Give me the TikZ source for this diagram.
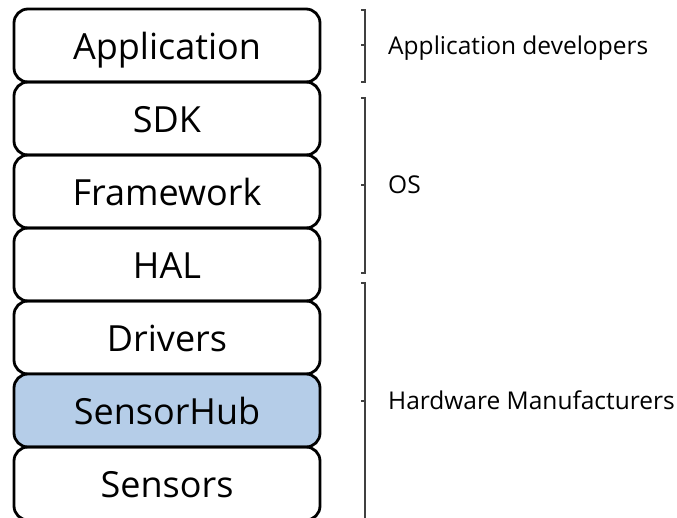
\documentclass[tikz,border=0pt]{standalone}
\usepackage{fontspec}
\setmainfont{Open Sans}
\usetikzlibrary{positioning}
\definecolor{hubblue}{RGB}{181,205,232}

\begin{document}
\begin{tikzpicture}[x=1pt,y=-1pt,node distance=0pt,
    layer/.style={draw,line width=2.8pt,rounded corners=14pt,minimum width=306pt,
      minimum height=73pt,outer sep=0pt,text height=27pt,text depth=0pt,
      font=\fontsize{36}{40}\selectfont},
    group/.style={anchor=base west,inner sep=0pt,font=\fontsize{24.5}{28}\selectfont},
    bracket/.style={draw=black!75,line width=1.2pt}]
  \useasboundingbox (0,0) rectangle (677,517);
  \node [layer] (app) at (167,45.5) {Application};
  \node [layer, below=of app] (sdk) {SDK};
  \node [layer, below=of sdk] (fw) {Framework};
  \node [layer, below=of fw] (hal) {HAL};
  \node [layer, below=of hal] (drv) {Drivers};
  \node [layer, fill=hubblue, below=of drv] (hub) {SensorHub};
  \node [layer, below=of hub] (sen) {Sensors};
  % who owns which layers
  \node [group] (dev) at (388,54) {Application developers};
  \node [group] (os) at (388,193) {OS};
  \node [group] (hw) at (388,409) {Hardware Manufacturers};
  \foreach \ya/\yb/\ym in {10/82/45, 98/273/185, 283/530/401}
    \draw [bracket] (361,\ya) -- (365,\ya) -- (365,\yb) -- (361,\yb)
      (365,\ym) -- (361,\ym);
\end{tikzpicture}
\end{document}
